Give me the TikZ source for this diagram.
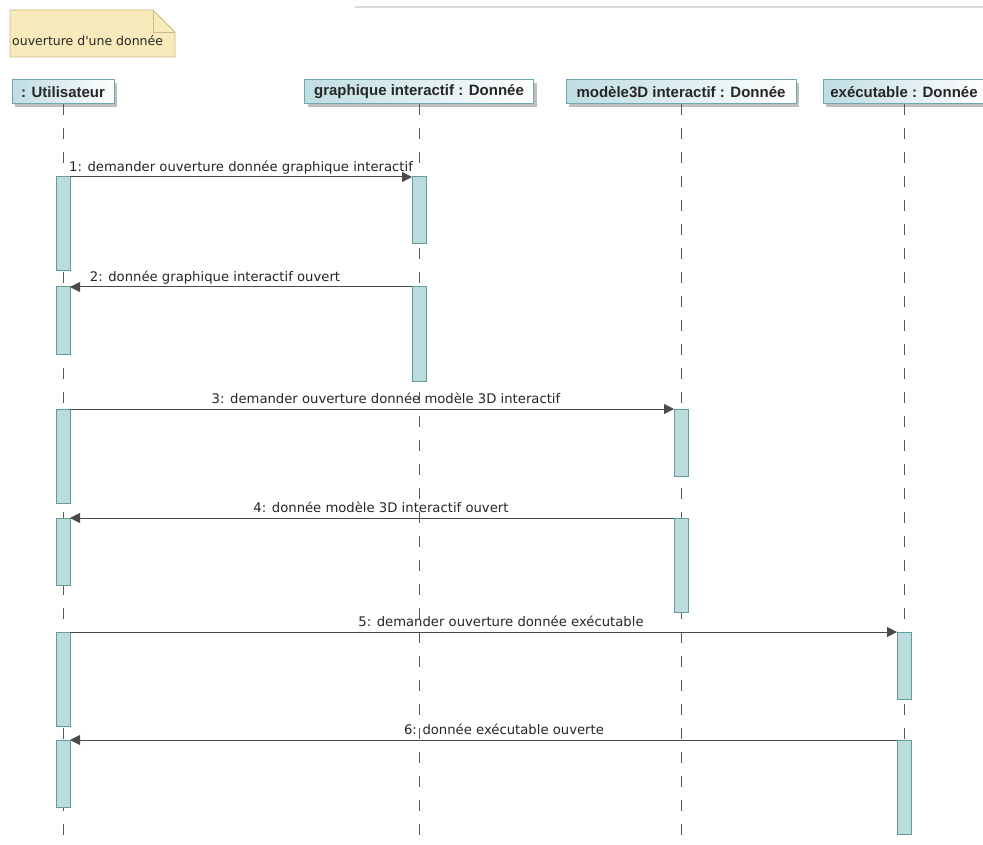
\documentclass[tikz,border=0pt]{standalone}
\usepackage{fontspec}
\newfontfamily\msgfont{DejaVu Sans}
\newfontfamily\hdrfont{Liberation Sans}
\usetikzlibrary{arrows.meta,shadows}
\definecolor{barfill}{HTML}{BCDCDC}
\definecolor{barline}{HTML}{5E9EA0}
\definecolor{hdrline}{HTML}{6FA8AE}
\definecolor{hdrleft}{HTML}{BEDDE2}
\definecolor{notefill}{HTML}{F8EABB}
\definecolor{noteline}{HTML}{CDBB86}
\definecolor{msgcol}{HTML}{4A4A4A}
\definecolor{lifecol}{HTML}{5A5A5A}
\begin{document}
\begin{tikzpicture}[x=1pt,y=-1pt,
 header/.style={draw=hdrline, line width=1pt, left color=hdrleft, right color=white,
   minimum height=24pt, inner sep=0pt, outer sep=0pt,
   font=\hdrfont\bfseries\fontsize{15}{18}\selectfont, text=black!85,
   drop shadow={shadow xshift=3pt,shadow yshift=-3pt,fill=black!25,opacity=1}},
 bar/.style={draw=barline, fill=barfill, line width=1pt, minimum width=14pt,
   inner sep=0pt, outer sep=0pt, anchor=north},
 short/.style={minimum height=67pt},
 long/.style={minimum height=94pt},
 lifeline/.style={draw=lifecol, line width=1pt, dash pattern=on 11pt off 13pt},
 msg/.style={draw=msgcol, line width=1pt, -{Triangle[length=10pt,width=10pt]}},
 msglabel/.style={font=\msgfont\fontsize{13.2}{16}\selectfont, text=black!85,
   anchor=base, inner sep=0pt}
]
\useasboundingbox (0,0) rectangle (983,845);
\fill[white] (0,0) rectangle (983,845);
% faint top line
\draw[black!15, line width=1.5pt] (355,7) -- (983,7);

% note
\draw[draw=noteline, fill=notefill, line width=0.8pt] (10,10) -- (153,10) -- (175,32) -- (175,57) -- (10,57) -- cycle;
\draw[noteline, line width=0.8pt] (153,10) -- (153,32) -- (175,32);
\node[font=\msgfont\fontsize{12.5}{15}\selectfont, anchor=base west, inner sep=0pt, text=black!85] (note) at (12,46) {ouverture d'une donnée};

% headers
\node[header, minimum width=102pt] (hu) at (63,92) {: Utilisateur};
\node[header, minimum width=229pt] (hg) at (419,92) {graphique interactif : Donnée};
\node[header, minimum width=230pt] (hm) at (681,92) {modèle3D interactif : Donnée};
\node[header, minimum width=162pt] (he) at (904,92) {exécutable : Donnée};

% lifelines
\coordinate (endu) at (63,845);
\coordinate (endg) at (419,845);
\coordinate (endm) at (681,845);
\coordinate (ende) at (904,845);
\draw[lifeline] (hu.south) -- (endu);
\draw[lifeline] (hg.south) -- (endg);
\draw[lifeline] (hm.south) -- (endm);
\draw[lifeline] (he.south) -- (ende);

% activation bars
\node[bar, long]  (u1) at (63,177) {};
\node[bar, short] (u2) at (63,287) {};
\node[bar, long]  (u3) at (63,409) {};
\node[bar, short] (u4) at (63,518) {};
\node[bar, long]  (u5) at (63,632) {};
\node[bar, short] (u6) at (63,740) {};
\node[bar, short] (g1) at (419,177) {};
\node[bar, long]  (g2) at (419,287) {};
\node[bar, short] (m1) at (681,409) {};
\node[bar, long]  (m2) at (681,518) {};
\node[bar, short] (e1) at (904,632) {};
\node[bar, long]  (e2) at (904,740) {};

% messages
\draw[msg] (u1.north east) -- (g1.north west);
\draw[msg] (g2.north west) -- (u2.north east);
\draw[msg] (u3.north east) -- (m1.north west);
\draw[msg] (m2.north west) -- (u4.north east);
\draw[msg] (u5.north east) -- (e1.north west);
\draw[msg] (e2.north west) -- (u6.north east);

% labels
\node[msglabel] (l1) at (241,171.5) {1: demander ouverture donnée graphique interactif};
\node[msglabel] (l2) at (215,281.5) {2: donnée graphique interactif ouvert};
\node[msglabel] (l3) at (386,403.5) {3: demander ouverture donnée modèle 3D interactif};
\node[msglabel] (l4) at (381,512.5) {4: donnée modèle 3D interactif ouvert};
\node[msglabel] (l5) at (501,626.5) {5: demander ouverture donnée exécutable};
\node[msglabel] (l6) at (504,734.5) {6: donnée exécutable ouverte};
\end{tikzpicture}
\end{document}
